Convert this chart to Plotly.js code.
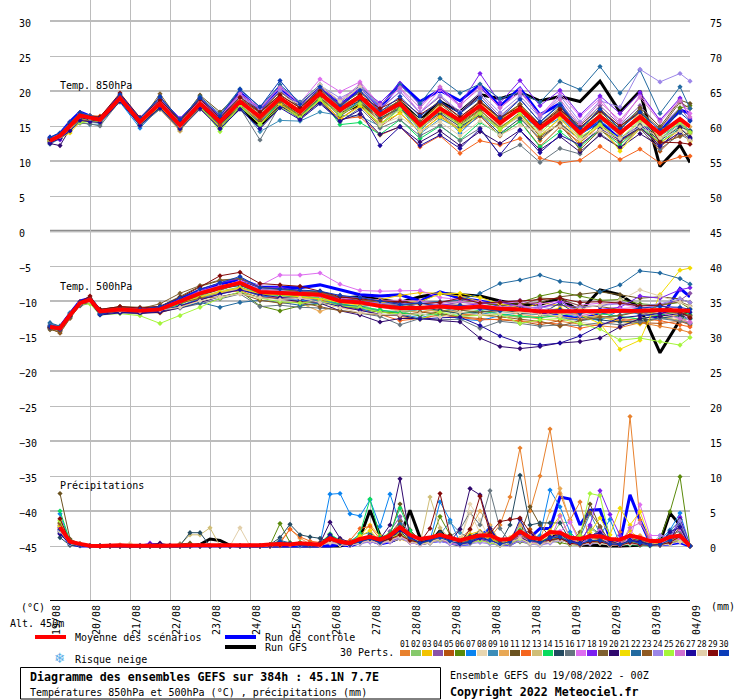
<!DOCTYPE html>
<html><head><meta charset="utf-8">
<script src="https://cdn.plot.ly/plotly-3.0.1.min.js"></script>
<style>html,body{margin:0;padding:0;background:#fff}</style></head>
<body><div id="chart" style="width:740px;height:700px"></div>
<script>
// Hours since the start of the run for the temperature samples
const tempHours=[0,6,12,18,24, 30,42,54,66,78, 90,102,114,126,138, 150,162,174,186,198, 210,222,234,246,258, 270,282,294,306,318, 330,342,354,366,378, 384];
// Hours for precipitation samples, one row per day
const rainHours=[6,12,18,24,30,36,42,48,54,60,66,72,78,84,90,96,102,108,114,120,126,132,138,144,150,156,162,168,174,180,186,192,198,204,210,216,222,228,234,240,246,252,258,264,270,276,282,288,294,300,306,312,318,324,330,336,342,348,354,360,366,372,378,384];
const dayTicks=[0,24,48,72,96,120,144,168,192,216,240,264,288,312,336,360,384];
const dayLabels=['19/08','20/08','21/08','22/08','23/08','24/08','25/08','26/08','27/08','28/08','29/08','30/08','31/08','01/09','02/09','03/09','04/09'];
const memberColors=['#E8812D','#86C96B','#F2C300','#8A52A8','#B5520F','#5A8A0A','#0A84F0','#E8D6B0','#3C8DB8','#E8A855','#6B5320','#F5651E','#D0BE78','#0ADB5E','#234A60','#66757F','#DE6EF0','#7B1FF0','#7F6030','#30086E','#F2DC00','#226AA0','#8F5A22','#9C86E8','#A5F53A','#D070D0','#1E0A9E','#E2CFAA','#850A0A','#0A3CB8'];

const meanT850=[12.9,13.6,15,16.5,16.2, 15.9,19,15.6,18.2,15.1, 18.2,15.6,18.5,16.3,19, 17,19.7,17.3,19.2,16.6, 18.2,15.1,17.5,15.8,17.9, 15.4,17.5,14.7,16.8,14, 16.4,14,16.3,13.9,16, 14.9];
const ctrlT850=[13.2,13.9,15.6,17,16.4, 16,19.3,15.9,18.8,15.8, 18.7,16.2,19.8,17.2,20.5, 17.8,20.5,18,20.2,17.5, 21.1,18.5,20.1,18.6,20.9, 17.8,20.4,16.6,18.2,14, 15.6,13.1,14.9,14.2,17.3, 16.8];
const gfsT850=[13,13.7,15.2,16.3,16.1, 15.8,18.8,15.7,18.3,15.2, 18,15.2,17.6,15,18, 17,19,17,18,16.5, 18.5,15.8,18.5,17,19.5, 18.9,19.8,18.6,19.2,18.5, 21.4,17,20,9.2,12.3, 9.8];
const t850m01=[13,13.5,15,16.2,16, 15.8,19,15.5,17.6,14.5, 17.9,15.2,18,15.6,18.5, 16.6,19.3,16.6,18.6,15.8, 17.4,14.6,16.6,14.6,17.2, 14.8,16.4,12.9,15.5,12.2, 14.6,11.8,15,12,14.2, 13];
const t850m02=[12.8,13.4,14.8,16,15.8, 15.7,18.8,15.2,17.8,14.9, 17.7,15,17.9,15.9,18.2, 16.4,18.9,16.9,18.4,15.2, 17.8,14.6,17.4,15,17.3, 14.7,16.9,13.5,16.1,14.2, 15.9,14.4,15.8,14.5,15.4, 13.9];
const t850m03=[13.1,13.7,15.2,16.6,16.3, 15.9,19.1,15.8,18.4,15.3, 18.4,15.8,19,16.6,19.2, 17.3,20.3,17.8,19.4,16.4, 18.5,15.7,17.9,15.2,18.4, 15.9,18,15,17.5,13.8, 16.8,13.4,17.2,13,15.8, 14.2];
const t850m04=[13.2,13.8,15.4,16.7,16.3, 16,19.2,15.8,18.6,15.4, 18.6,16.1,19.2,17.1,20, 18,20.4,17.6,20.2,17.4, 19.9,16.9,19.2,16.8,19.4, 16.4,18.9,15.6,18.2,15, 17.9,15.2,17.9,14.8,17.6, 15.8];
const t850m05=[12.7,13.3,14.6,15.9,15.8, 15.6,18.6,15.1,17.9,14.8, 17.6,15.1,17.8,15.5,18.3, 16.3,18.7,16,18,14.9, 16.9,14.1,16.4,14.4,16.4, 13.6,15.7,12.1,14.9,12.6, 15.1,12.9,14.7,11.4,14.1, 13];
const t850m06=[13,13.6,15,16.4,16.1, 16,19,15.2,17.9,14.3, 17.9,14.9,18.2,15.7,18.9, 16.9,19.5,17,18.8,16.1, 17.7,15,17.3,15.4,17.4, 15.9,17.2,14.2,17.4,14.6, 16.6,14.7,17.1,13.8,17.6, 17.9];
const t850m07=[13.1,13.7,15.1,16.2,16, 15.7,18.4,14.7,17.7,14.9, 17.4,15.2,17.6,15.6,18.1, 16.2,19.1,16.4,18.7,16.3, 18,14.3,17.1,14,16.7, 14.4,16.6,14.6,16.1,13.7, 15.7,13.8,16.2,13.1,15.4, 14.3];
const t850m08=[12.9,13.6,15,16.4,16.2, 15.9,18.9,15.5,18.2,15.2, 18.1,15.7,18.4,16.9,19.4, 17.6,20.7,18.4,20.4,17.1, 18.3,15.9,17.1,14.9,16.9, 14.6,16.3,13.5,15.5,13.2, 15,12.8,15.4,12.6,14.6, 13.8];
const t850m09=[12.4,13.2,14.4,15.6,15.2, 15.3,18.5,15.1,17.6,14.8, 17.9,15,17.7,14.2,15.8, 15.7,17,16.5,16.4,15, 17.6,13.9,16,14.6,16.8, 14.8,16.6,15.4,18.2,14.6, 17.1,15,17.4,13.6,15.3, 14.4];
const t850m10=[13,13.5,14.8,16.1,16.1, 15.9,18.9,15.4,17.4,14.3, 18,15.3,18.5,16.5,19.1, 17.1,19.4,17,19,16.1, 18.4,15.4,17.7,15.6,18, 15.3,17.8,14.4,17.1,13.5, 16.7,13.9,16.8,13.5,15.9, 14.9];
const t850m11=[13.2,13.8,15.4,16.7,16.4, 16.1,19.2,15.9,19,15.6, 19.4,17,19.7,17,19.5, 17.6,20,17.6,19.5,16.8, 18.7,15.6,18.2,15.9,18.5, 16,18.1,15.2,17.7,14.7, 17.1,14.4,17.6,14.9,18.7, 18.2];
const t850m12=[13,13.6,15,16.3,16.5, 16.4,19.2,16,18.1,15, 18,15.4,18.1,15.8,18.6, 16.2,18.9,16,16.3,13.7, 14.9,12,13.6,11.1,12.9, 12.3,13.2,10.4,9.7,10.1, 12.1,10.2,11.7,9.7,10.6, 10.7];
const t850m13=[12.8,13.4,14.7,16,16, 15.8,18.6,15.4,17.4,14.5, 17.7,15.3,18.1,15.9,18.4, 16.6,19.2,16.9,18.8,15.9, 17.5,14.5,16.9,14.3,17.1, 15,16.4,13.6,16,13.3, 15.3,13.1,15.6,13,15.1, 13.9];
const t850m14=[12.9,13.5,15,16.4,16, 15.8,18.8,15.2,17.5,14.9, 18,14.5,18,15.2,18.6, 16.3,19,15.2,15.5,13.8, 15.9,13.2,15,13,15.5, 13.8,15.6,12,14.2,12, 14.5,12.3,14.9,12.6,14.7, 13.3];
const t850m15=[13.1,13.7,15.1,16.5,16.1, 15.9,19.1,15.9,18.4,15.6, 18.5,15.9,18.8,16.9,19.2, 17.1,19.8,17.2,18.6,16.1, 17.5,14.9,16.8,14.9,16.6, 13.9,16.1,13.2,15.4,13, 15.6,12.8,15.1,12.9,14.9, 14.3];
const t850m16=[12.6,13.2,14.5,15.4,15.3, 15,18.6,15,17.4,14.5, 17.4,14.8,17.6,13,18, 16,18.4,15.6,17.6,14.7, 15.9,13.6,15.1,12.9,14.7, 10.9,12.3,9.8,11.8,11, 13.9,11.9,14.6,11.7,13.8, 13];
const t850m17=[13.2,13.9,15.6,16.8,16.4, 16.1,19.3,16.1,18.9,16, 19,16.5,19.4,17.5,20.6, 18.3,21.7,19.9,21.3,18, 20.4,16.9,20.2,17.8,20.8, 17.6,20.2,16.4,19.6,16.4, 18.9,15.3,19.4,15.9,18.8, 16.8];
const t850m18=[13.4,13,14.9,16.9,16.4, 16.1,19,16.2,19,16.1, 19,16.5,19.7,17.5,20, 18,20.6,18,20.5,18.3, 21.1,18,20.4,18,22.5, 18.3,21.5,17.9,20.1,16.6, 19.3,16.8,19.8,15.8,19, 16];
const t850m19=[13,13.7,15.4,16.9,16.2, 16,19.1,15.6,19.6,15.6, 18.9,16.2,18.9,16.9,19.9, 17.7,20.2,18,19.8,17.1, 18.6,15.6,18.4,16.2,18.6, 16.2,18.1,15.2,17.2,15.1, 17.5,14.9,17.2,14.6,18.4, 17.5];
const t850m20=[12.5,12.2,14.6,16.2,15.9, 15.6,18.6,15.2,17.7,14.8, 17.8,15.3,17.7,15.4,17.9, 16.1,18.5,15.8,16.7,13.8, 14.9,12.7,14.3,12.2,14.2, 12.5,14.4,11.6,13.5,11.3, 13.7,11.9,13.9,12.1,14.7, 13.4];
const t850m21=[12.8,13.3,14,15.6,15.7, 15.5,18.7,15.4,17.8,14.6, 17.6,14.9,17.8,15.3,18.1, 16.3,18.7,16,17.8,15.4, 16.8,14.2,16.3,14.4,16.8, 14.4,16.7,13.6,16.1,12.9, 15.1,11.4,14.7,12.6,14.4, 12.8];
const t850m22=[13.3,14,15.5,16.9,16.5, 16.2,19.2,16,19,15.9, 19.2,16.7,20.3,17.7,20.9, 18.4,20.9,18.4,20.8,17.9, 20.9,18.2,21.8,19.7,21, 18.9,19.8,18.4,21.4,20.2, 23.5,19.7,23,16.8,20.6, 17.5];
const t850m23=[12.8,13.4,14.8,15.9,15.7, 15.7,18.8,15.4,18,15.2, 18,15.1,18.4,15.9,18.5, 16.5,19.1,16.4,18.3,15.7, 18,15,17.1,15.2,17.3, 14.7,16.9,13.5,15.3,11.6, 14.4,12.7,14.7,12.5,13.5, 14.1];
const t850m24=[13.1,13.8,15.3,16.6,16.1, 15.8,19.1,15.9,18.6,15.4, 18.7,16.4,19.3,17.4,20.1, 18,20.8,19,20.5,17.6, 19.9,16.9,19.4,17,19.7, 16.9,19.3,16.2,19.3,15.6, 18.6,17.7,23.1,21.3,22.5, 21.4];
const t850m25=[12.9,13.4,14.8,15.5,15.6, 15.6,18.5,15.2,17.9,14.9, 17.9,14.2,17.9,15.2,17.7, 16.2,18.8,16.6,18.2,15.1, 17.4,14.7,17.2,15.1,16.8, 14.6,16.8,13.9,16.7,13.4, 15.2,13.1,15.9,13.2,15.5, 14.1];
const t850m26=[13.1,13.6,15,16.5,16.3, 16.1,19,15.9,18.7,15.4, 18.6,16.3,19.6,17.6,20.5, 18.2,20.5,18.6,21,18, 20.5,17.6,20.6,18,20.4, 17.6,19.8,16.6,18.8,15.2, 18.4,15.8,19.1,15.6,18.6, 16.3];
const t850m27=[12.6,13.2,14.3,15.8,15.6, 15.5,18.5,15.1,17.6,14.6, 17.5,14.6,17.4,14.6,17.6, 15.9,18.2,15.7,17.3,12.2, 14.9,12.2,13.7,11.8,14.6, 10.9,14.4,11.2,13.7,12.3, 14.6,13,14.8,12.2,14.1, 13.2];
const t850m28=[13,13.5,14.9,16.4,16.1, 15.9,18.8,15.6,18,15, 18.3,15.7,18.7,16.7,19.3, 18.1,20.9,18.5,20.6,15.2, 16.3,14.3,15.6,13.6,15.7, 13.7,15.1,14.1,15,13.1, 14.4,13.2,14.9,13.3,14.3, 12.9];
const t850m29=[13.1,13.7,15.3,16.5,16.3, 16.3,19.7,16.2,18.7,15.8, 18.8,16.2,19.1,17,19.4, 17.6,20,17.4,19.4,17.5, 18.9,16.6,18.5,16.3,18.4, 16.2,17.7,15.2,17.4,14.8, 17.2,15,17,12.7,12.6, 12.4];
const t850m30=[13.4,14,15.6,16.9,16.3, 16.1,19.5,16.1,19.2,15.9, 19,16.4,20.2,17.7,21.5, 18.1,20.6,17.8,20.1,17, 19.2,16.4,18.5,16.8,19, 16.1,18.8,15.6,18,14.6, 17.4,14.6,17,14.4,16.9, 15.7];

const meanT500=[-13.7,-13.9,-12,-10.3,-9.8, -11.5,-11.2,-11.4,-11.2,-10.1, -8.9,-8.1,-7.4,-8.7,-8.8, -8.9,-9.1,-10,-10.2,-10.7, -11,-11,-10.8,-11,-10.8, -11.1,-11.2,-11.5,-11.5,-11.5, -11.4,-11.4,-11.4,-11.3,-11.3, -11.4];
const ctrlT500=[-13.5,-13.7,-11.8,-10,-9.6, -11.4,-11,-11.2,-10.9,-9.7, -8.5,-7.6,-6.9,-8,-8.1, -8.1,-7.7,-8.4,-9.1,-9.3, -9.1,-10,-8.7,-9.6,-10, -10.6,-11,-11.6,-12,-12.6, -11.8,-11.4,-11.5,-12.5,-8.2, -9.4];
const gfsT500=[-13.6,-13.8,-11.9,-10.2,-9.7, -11.4,-11,-11.2,-11,-10.2, -9.3,-8.3,-7.3,-8.8,-8.9, -9.1,-9.2,-9.6,-9.4,-9.8, -10.2,-9.4,-8.9,-9.1,-9.3, -10,-10.5,-10.5,-9.6,-11.5, -8.4,-9.1,-11,-17.4,-12.7, -10.9];
const t500m01=[-13.8,-14,-12.1,-10.4,-9.9, -11.6,-11.3,-11.4,-11.3,-10.7, -9.6,-8.4,-7.6,-9.3,-9.6, -9.2,-9.4,-10.2,-10.4,-10.5, -11.4,-11.6,-11.2,-11.9,-12, -12.3,-12.2,-12.5,-12.9,-13.3, -13.6,-13.8,-13.1,-13.6,-14.1, -14.5];
const t500m02=[-13.6,-14,-12,-10.5,-10.1, -11.6,-11.5,-11.7,-11.6,-10.5, -9.2,-8.6,-8,-9,-9.4, -9.5,-9.8,-10.4,-10.7,-11.3, -11.8,-11.2,-11.5,-11.7,-11.3, -11.8,-12.4,-12.2,-11.6,-12.1, -12.6,-12,-11.3,-12.4,-12.8, -12.5];
const t500m03=[-13.7,-13.8,-11.9,-10.3,-9.9, -11.5,-11.3,-11.3,-11,-9.9, -8.7,-7.9,-7.2,-8.5,-8.9, -9.2,-9.3,-9.9,-10,-9.8, -9.2,-8.8,-8.9,-9.3,-10.1, -10.6,-11.2,-10.3,-10.6,-11.2, -12.3,-12.9,-13.3,-12.4,-12, -13.5];
const t500m04=[-13.6,-13.9,-12,-10.2,-9.8, -11.3,-11.1,-11.3,-11.1,-10, -8.7,-8.1,-7.3,-8.4,-8.4, -8.6,-8.8,-9.2,-9.6,-10.1, -10.1,-10.3,-10.6,-10.2,-10.4, -10.1,-9.9,-10.8,-10.6,-10.9, -10.7,-10.1,-10.7,-10.5,-9.9, -8.9];
const t500m05=[-13.9,-14.1,-12.2,-10.6,-10.1, -11.7,-11.5,-11.6,-11.7,-10.8, -9.7,-8.8,-8.3,-9.3,-9.6, -10,-9.9,-10.7,-11,-11.4, -12.2,-12.6,-11.9,-12.3,-12.5, -12.7,-12.9,-13.4,-12.8,-12.4, -12.2,-12.6,-13.1,-13.2,-12.9, -13.4];
const t500m06=[-13.7,-14,-12.1,-10.4,-10, -11.4,-11.2,-11.2,-11.1,-10.5, -9.5,-8.7,-8.6,-10.7,-11.4, -10.7,-10.4,-10.6,-11.2,-11.6, -11.7,-12.1,-11.5,-11.2,-10.7, -10.4,-10.2,-9.3,-8.7,-9.3, -9.9,-9.8,-10.4,-10.6,-10.2, -11.1];
const t500m07=[-13.6,-13.7,-11.7,-10.4,-10.2, -11.8,-11.4,-11.5,-11.3,-10.6, -9.8,-9,-8.4,-9.2,-9.7, -9.9,-10,-10.4,-11,-12.1, -11.9,-12.4,-11.7,-12.6,-12.8, -12.1,-11.6,-11.2,-11.8,-12.3, -12.8,-11.3,-11.9,-12.3,-12.8, -13.2];
const t500m08=[-13.8,-13.9,-12.1,-10.5,-9.9, -11.5,-11.2,-11.4,-11.2,-10.6, -9.4,-8.5,-8.6,-8.1,-8.2, -8.9,-9.5,-10.3,-10.6,-10.8, -11.3,-10.6,-11,-11.6,-11.8, -12.4,-11.7,-11.3,-12.5,-13, -13.5,-12.9,-12.4,-12,-12.6, -13];
const t500m09=[-13.3,-13.6,-11.9,-10.6,-10.2, -11.8,-11.6,-11.7,-11.5,-10.8, -9.7,-8.8,-8.1,-8.9,-9.2, -9.6,-9.9,-10.5,-11,-11.4, -11.5,-11.2,-10.9,-11.6,-11.9, -11.5,-11.8,-11.9,-12.4,-12.8, -12.5,-12,-11.5,-11.9,-12.3, -12.6];
const t500m10=[-13.7,-13.9,-12,-10.3,-9.7, -11.3,-11.1,-11.1,-11,-10.1, -8.9,-8,-7.3,-8.9,-9.6, -10.3,-11.5,-10.5,-10.1,-10.4, -10.8,-11.1,-11.6,-11.4,-11,-11.3, -11.9,-12.3,-12.2,-12.6, -12,-11.5,-11.7,-12.2,-12.8, -13.1];
const t500m11=[-14.1,-14.4,-12.4,-10.5,-9.6, -11.2,-10.8,-10.9,-10.8,-9.4, -7.9,-7.1,-6.8,-8.2,-8.3, -8.5,-8.7,-9.6,-9.9,-10.3, -10.6,-10.4,-10.2,-9.9,-10.2, -10.6,-10.4,-10.2,-9.4,-9,-8.7, -9.1,-9.6,-9.4,-9.7, -10.2];
const t500m12=[-13.6,-13.8,-12,-10.5,-10, -11.5,-11.3,-11.5,-11.4,-10.8, -9.9,-8.9,-8.5,-9.6,-9.5, -9.4,-9.8,-10.9,-11.3,-11.9, -12.8,-12.5,-12,-12.3,-12.7, -12.6,-12.8,-13.1,-13.3,-13.9, -13.3,-12.8,-12.5,-12.8,-13.4, -13.7];
const t500m13=[-13.7,-14,-12,-10.3,-9.9, -11.6,-11.6,-11.9,-11.2,-10.4, -9.4,-8.8,-8.2,-9,-9.3, -9.7,-9.5,-10.1,-10.3,-10.8, -11.5,-11.1,-10.6,-10.5,-11, -11.4,-11.5,-11.2,-11.8,-12.1, -12.3,-12.6,-12.1,-11.4,-11.9, -12.2];
const t500m14=[-13.8,-14.1,-12.3,-10.6,-10, -11.6,-11.4,-11.4,-11.3,-10.5, -9.1,-8.3,-7.7,-9,-9.2, -9.4,-9.6,-10.4,-10.8,-11.2, -11.7,-11.9,-12,-11.8,-11.4, -11.9,-12.1,-12.4,-12,-11.6, -11.8,-12.2,-12.6,-12,-11.5, -11.9];
const t500m15=[-13.5,-13.8,-11.9,-10.4,-10, -11.4,-11.1,-11.2,-11.3,-10.2, -9,-8.2,-7.8,-8.7,-8.6, -8.8,-9,-9.8,-10.1,-10.6, -11,-10.9,-11.3,-11.8,-11.6, -11.2,-11.7,-11.9,-10.3,-12.2, -12.7,-13,-12.8,-12.4,-12.1, -12.5];
const t500m16=[-13.9,-14.2,-12.3,-10.7,-10.3, -11.7,-11.5,-11.6,-11.4,-11, -10.4,-9.7,-9,-10.8,-10.6, -10.9,-11,-11.3,-11.8,-12.2, -13.4,-12.5,-12.7,-12.6,-13.9, -12.9,-13.2,-13.6,-13.4,-13.5, -13.1,-13.4,-13,-12.5,-12.9, -13.2];
const t500m17=[-13.6,-13.8,-11.8,-10.2,-9.8, -11.2,-11,-11,-11,-9.9, -8.7,-8,-7.1,-7.8,-6.3, -6.3,-6,-7.6,-8.5,-8.6, -8.5,-8.5,-9.5,-9.8,-10.1, -10.4,-10.1,-10.4,-10,-10.6, -10.3,-10.4,-11,-10.6,-11.1, -13];
const t500m18=[-13.7,-13.9,-12.1,-10.4,-9.8, -11.3,-11,-11.1,-10.9,-9.8, -8.5,-7.4,-6.8,-8.1,-8, -8.6,-9,-9.6,-10,-10.3, -10.3,-10.9,-10.4,-10.7,-10.4, -10.1,-10.8,-11,-10.1,-11.6, -11.2,-10.9,-9.3,-9.6,-8.4, -8.1];
const t500m19=[-13.8,-14.3,-12.2,-10.5,-9.9, -11.2,-10.9,-11.1,-10.4,-8.9, -7.8,-7,-6.8,-8,-8.3, -8.7,-8.8,-9.5,-9.8,-10.2, -10.4,-10.9,-10.7,-11.3,-11.6, -11.4,-10.6,-9.6,-9.7,-10.7, -10.8,-11.2,-11.8,-10.6,-10.1, -10.7];
const t500m20=[-13.8,-14,-12.1,-10.5,-10.2, -11.9,-11.6,-11.8,-11.6,-11, -10.2,-9.4,-8.8,-9.5,-9.7, -10.1,-10.3,-11.4,-12,-13, -12.5,-12.5,-12.8,-13,-15.3, -16.5,-16.8,-16.5,-16,-15.8, -15.3,-13.7,-12.5,-12.2,-11.8, -12.1];
const t500m21=[-13.7,-13.9,-12,-10.4,-10, -11.5,-11.2,-11.4,-11.2,-10.3, -9.4,-8.7,-8.1,-9,-9.1, -9.4,-9.7,-10.2,-10.6,-10.3, -9.9,-10.1,-9,-8.9,-9.5, -10.4,-11,-11.6,-11,-12, -13.2,-16.9,-15.6,-9.1,-5.6, -5.3];
const t500m22=[-13.1,-13.6,-11.7,-10.4,-10.1, -11.6,-11.3,-11.4,-11.1,-10.9, -10.2,-10.9,-10.2,-9.9,-10.2, -10.6,-10.3,-10.5,-10.8,-10.5, -10.7,-10.1,-10.1,-9.9,-8.9, -7.5,-7,-6.3,-7.2,-7.5, -8.7,-7.7,-5.7,-6,-6.8, -7.6];
const t500m23=[-13.9,-14.6,-12.5,-10.6,-10.2, -11.4,-11,-11.2,-11,-10.3, -9.6,-9.4,-8.9,-9.9,-10.3, -10.2,-10.8,-11.4,-11.7,-12, -12.1,-11.6,-11.8,-12.2,-11.9, -12.3,-12.6,-12.9,-13.6,-12.8, -12.3,-12.1,-11.5,-11.8,-11.6, -12.1];
const t500m24=[-13.6,-13.9,-11.9,-10.3,-9.9, -11.4,-11.2,-11.3,-11.2,-10.1, -8.9,-8.1,-7.5,-8.2,-8.5, -8.8,-9.2,-9.9,-10.1,-10.4, -10.5,-10.1,-10.6,-10.9,-11.2, -10.9,-11.1,-10.8,-11.4,-10.9, -10.7,-10.4,-10.7,-10.4,-9.7, -10.2];
const t500m25=[-13.8,-14.1,-12.2,-10.5,-10.4, -12,-11.8,-12.1,-13.2,-12.1, -10.9,-9.6,-8.7,-9.6,-10.1, -10.3,-10,-10.7,-10.9,-11.6, -11.9,-12.6,-11.6,-12.2,-12.1, -11.9,-13.2,-12.7,-12.5,-13.2, -14,-15.6,-15.3,-15.8,-16.3, -15.2];
const t500m26=[-13.7,-14,-12,-10.3,-9.8, -11.3,-11.2,-11.2,-11.1,-10, -8.6,-7.8,-7.4,-8.4,-8.7, -9,-9.3,-9.7,-9.5,-9.9, -9.9,-10,-10.3,-10.1,-10.5, -10.9,-10.6,-11.2,-11.5,-12.1, -11.6,-11.1,-10.9,-11.6,-12.5, -13.1];
const t500m27=[-13.8,-14.1,-12.2,-10.5,-10.1, -12,-11.7,-11.7,-11.5,-10.7, -9.9,-9,-8.4,-9.1,-9.5, -9.7,-10.2,-10.8,-11.3,-11.9, -12,-12.6,-12.4,-12.3,-13.5, -15,-16,-16.3,-16,-15, -13.5,-12.4,-12.1,-11.8,-11.2, -11.6];
const t500m28=[-13.6,-13.9,-11.9,-10.4,-10.1, -11.6,-11.4,-11.5,-11.3,-10.9, -10,-9.4,-9,-9.5,-9.8, -9.6,-10.2,-11,-11.7,-11.9, -12,-11.8,-12.3,-11.6,-12, -11.8,-11.6,-11.9,-12.1,-11.2, -10.6,-9.9,-8.4,-9.3,-10.2, -10.8];
const t500m29=[-13.7,-13.9,-12.1,-10.1,-9.3, -11.2,-10.8,-11,-10.8,-9.5, -8,-6.4,-5.9,-7.5,-7.7, -7.9,-8.6,-9.4,-9.7,-10, -10.1,-10.4,-10.2,-9.6,-10.3, -10.2,-10,-9.8,-9.6,-10.2, -10.1,-10.3,-10.7,-10.6,-11.5, -12.4];
const t500m30=[-13.6,-13.8,-11.9,-10.2,-9.8, -11.9,-11.2,-11.2,-10.8,-9.6, -8.3,-7.4,-6.5,-8.1,-8.3, -8.5,-8.6,-9.2,-9.5,-10, -10.5,-10.3,-10.8,-10.6,-11.1, -11.4,-11.1,-11.5,-11.2,-11.8, -11.3,-11.5,-11,-10.8,-10.9, -11.2];

// Precipitation in mm, four values per day
const meanRain=[2.7,.6,.3,.05, 0,.1,.1,.05, 0,.05,.05,.1, .1,.1,.1,.1, .05,.05,.05,.05, .1,.2,.3,.2, .4,.3,.2,1.1, .6,.4,1,1.3, .9,1.5,2.7,1.6, 1,1.2,1.6,1.2, .8,1.2,1.5,1.5, .9,1,2.1,1.2, 1,2,1.9,1.2, 1,1.4,1.4,1, .9,1.5,1.2,.7, .7,1.3,1.5,0];
const ctrlRain=[2.2,.3,0,0, 0,0,0,0, 0,0,0,0, 0,0,0,0, 0,0,0,0, 0,0,0,0, 0,0,0,0, .2,0,.5,.9, .3,.6,1.2,.8, .3,.6,.8,.5, .2,.3,1.5,2.4, .3,.2,1,1.2, 2.5,2.5,7,6.7, 3,5.1,5.2,1, .5,7.3,3.7,.5, .2,.3,.5,0];
const gfsRain=[2.6,.4,.1,0, 0,0,0,0, 0,0,0,0, 0,0,.2,1, .8,.1,0,0, 0,0,0,0, 0,0,0,0, 0,.3,1.2,5.1, 1.5,.6,1.2,5.1, 1.2,.4,2.2,.4, .2,.8,2,.6, .2,.4,1.3,.6, .3,1.2,2,.9, .1,.1,0,0, 0,0,.1,.5, .5,4.7,3,0];
const rainm01=[2.6,.4,.1,0, 0,0,0,0, 0,0,0,0, 0,0,0,0, 0,0,0,0, 0,0,.2,.3, .4,.2,.2,.8, .6,.3,1,1.5, .8,1,1.8,.6, .3,.8,1.2,.6, .4,1,2,1.2, 3,7,14,5, 10,16.7,7.5,3.7, 6.3,.5,.4,.2, 2,18.5,3.7,.5, .3,.5,1.5,0];
const rainm02=[3,.5,.1,0, 0,0,0,0, 0,0,0,0, 0,0,0,0, 0,0,0,0, 0,0,.3,.2, .2,.1,.1,1, .5,.2,.5,.6, .3,1,3.6,1.8, .6,.8,1.3,.4, .3,.6,.9,.6, .2,.3,1.2,.8, .4,1,3.3,3.4, 1,2.4,1.8,.6, .2,.8,.5,.2, .1,.4,.8,0];
const rainm03=[3.4,.6,.2,0, 0,0,0,0, 0,0,0,0, 0,0,0,0, 0,0,0,0, 0,.2,.7,.3, .2,.1,0,.6, .3,.4,1.5,3, 1.4,.6,1,.5, .3,.5,.8,.5, 1,1.7,2.1,1.5, .3,.6,2.3,.6, .4,1.5,1.9,.7, .3,1.1,.9,.3, .5,2.2,.9,.4, .2,.7,1.6,0];
const rainm04=[2.1,.3,.1,0, 0,0,0,0, 0,0,0,0, .2,.2,0,0, 0,0,0,0, 0,.2,.3,.1, .2,.1,.1,.6, .2,.1,.9,.8, .4,2.1,4.2,1.5, .4,.9,1.2,.7, .4,.5,1,.7, .3,.4,1.8,.6, .4,.9,1.2,.4, .3,1.4,1.9,.7, .2,.5,.2,.1, .2,1.5,2.8,0];
const rainm05=[2.9,.6,.2,0, 0,0,0,0, 0,0,0,0, 0,0,0,0, 0,0,0,0, 0,0,.1,.3, .5,.4,.1,1.4, .4,.1,.6,1.1, .8,.9,2.4,1, .3,.6,1.1,.8, .3,.8,1.8,.9, .2,.4,1.2,2.4, .6,1.1,1.5,.4, .7,1.1,1,.3, .1,.3,.2,.1, .3,1.2,2.3,0];
const rainm06=[2.4,.4,.2,0, 0,0,0,0, 0,0,0,0, 0,0,0,0, 0,0,0,0, 0,.1,3.2,.5, .1,0,.1,1.7, .3,.2,.8,.9, .5,.7,2.2,.6, .2,.4,4.2,1.6, .3,.4,.8,.7, .1,.3,.6,.3, .5,.7,.5,.2, .1,.3,.9,.4, .2,.5,.4,.1, 1,4.9,9.9,0];
const rainm07=[4.6,.5,.1,0, 0,0,0,0, 0,0,0,0, 0,0,0,0, 0,0,0,0, 0,0,.4,.1, 0,.1,.3,7.4, 7.5,4.6,4.3,6.6, 2.8,7.4,3.2,1.1, .3,.8,6.3,3.7, .5,.9,1.3,2.8, .5,.8,3,1, 1.5,8,5.6,2, .5,1,1.5,3.8, .3,.6,1.2,.4, .8,2.3,4.7,0];
const rainm08=[3.1,.5,.2,0, 0,0,0,0, 0,0,0,0, 0,0,0,0, 0,0,0,0, 0,.1,.5,.3, .2,.1,.2,1.1, .4,.2,.6,.9, .6,1.3,2.7,1.2, .5,.8,1.6,.9, .3,6,3.7,.9, .4,.8,2.8,1, .4,1.2,.8,.5, .3,.8,.5,.2, .4,1.3,.9,.2, .1,.4,1,0];
const rainm09=[2.2,.3,.1,0, 0,0,0,0, 0,0,0,0, 0,0,0,0, 0,0,0,0, 0,0,.2,.2, .1,.1,.2,1.3, .5,.7,1.6,1.9, .9,1.4,2.9,1.3, .4,.7,1.7,3.4, 1.9,1.1,1.7,.9, .2,1,3.1,1.2, .4,1.3,1.1,.6, 1.2,4.6,1.8,.4, .2,.7,1.1,.3, .2,2,3,0];
const rainm10=[3.7,.8,.3,0, 0,0,0,0, 0,0,0,0, 0,0,0,0, 0,0,0,0, 0,.1,.6,2.4, 1.1,.3,.2,.7, .4,.3,1,1.2, .6,1.2,2,.9, .6,1,1.3,.9, 1.1,2.3,5,3, .6,1.2,3,1.4, .9,5,8.2,3.6, .8,1.2,.9,.3, .2,.8,1.5,.5, .2,.6,1.1,0];
const rainm11=[7.5,1,.3,.1, 0,0,0,0, 0,0,0,0, .3,.4,0,0, 0,0,0,0, 0,0,.3,.2, .2,.2,.4,1.6, .7,.4,1.1,.8, .6,1.6,6,2.3, .8,1.1,1.7,.8, .4,.8,1.4,1.2, .3,.7,1.5,5.6, 3,1.3,.9,.4, 1.5,6,2.7,.6, .3,1.1,.7,.2, .1,.5,1.2,0];
const rainm12=[2.7,.6,.3,0, 0,0,0,0, 0,0,0,0, 0,0,0,0, 0,0,0,0, 0,0,.4,2.4, 1.3,.7,.5,1.5, .6,.8,2.5,2.8, 1,1,1.4,.6, .4,.7,1.2,1, .3,.6,1.5,2.1, .3,.5,1.1,.5, .3,.7,1,.4, .2,.4,.5,.1, .2,.5,.3,.1, .2,.4,.9,0];
const rainm13=[2.5,.4,.1,0, 0,0,0,.3, 0,.1,.1,.1, .2,1.6,1.6,2.6, 0,0,0,0, 0,0,.2,.3, .1,.2,.3,.8, .4,.2,.5,1, .7,.9,1.9,.9, .3,7,2.6,1, .5,1,1.6,.8, .2,.6,1.4,.7, .2,.7,1.2,.5, .2,.6,.5,.2, .1,.5,.3,.1, .3,.9,1.2,0];
const rainm14=[5,.7,.2,0, 0,0,0,0, 0,0,0,0, 0,0,0,0, 0,0,0,0, 0,.1,.2,.4, .5,.3,.4,1.7, .8,.4,1.8,6.7, 1.2,1.8,5.4,2.2, .5,1,1.8,1.2, .3,.6,1.2,1.9, .3,.6,2.3,.7, .7,1.1,1.7,1.6, .5,.8,.4,.1, .1,.2,.1,0, .2,.5,1,0];
const rainm15=[1.2,.1,0,0, 0,0,0,0, 0,0,0,0, .1,1.9,1.9,0, 0,0,0,0, 0,.2,1.2,3.1, 1.6,1.3,1.1,.6, .3,.2,.7,1.6, .5,1.1,2.1,.8, .3,1,1.9,1.1, .6,1.4,2,.6, .4,3,10.1,3, 3.3,3.3,3.3,.8, .3,1.2,2.4,.3, .2,.6,.4,.1, .3,1.4,3.4,0];
const rainm16=[2,.4,.1,0, 0,0,0,0, 0,0,0,0, 0,0,0,0, 0,0,0,0, 0,0,0,.3, 0,.1,.2,.8, .3,.4,.7,1.4, .5,.9,2.6,1.2, .4,.8,1.2,1.3, 2.4,4.8,3,7.9, 2.5,.6,1.2,.5, .3,.7,.9,.4, .6,2.8,1.7,.4, .1,.5,.3,.1, .2,1.6,2.1,0];
const rainm17=[2.2,.4,.1,0, 0,0,0,0, 0,0,0,0, 0,0,0,0, 0,0,0,0, 0,0,.1,.2, .1,.1,.1,.6, .2,.1,.4,.7, .3,.7,1.2,.5, .2,.5,.9,.6, .2,.4,.7,.4, .1,.3,.8,.3, .2,.7,2.1,3.4, .4,.9,2.3,.8, .4,1,5.9,1.5, 1.5,1.3,2.4,0];
const rainm18=[2.6,.5,.2,0, 0,0,0,0, .1,.4,.2,.1, 0,0,0,0, 0,0,0,0, 0,0,.1,.2, .1,.1,.1,1, .3,.1,.4,.6, .3,.6,1.2,.6, .2,.5,1,.4, .2,.4,.9,.5, .1,.2,.9,.4, .2,.5,1.2,.9, .3,3,7.9,4.5, 1.5,.9,.6,.2, .1,1,4.1,0];
const rainm19=[3.3,.7,.3,0, 0,0,0,0, 0,0,0,0, 0,0,0,0, 0,0,0,0, 0,0,.4,.3, .3,.2,.3,1.2, .5,.3,1.1,1.3, .7,1.7,3.5,1.2, .4,.9,1.4,.9, .4,.7,1.3,1.1, .3,.5,1.5,.8, .4,1,1.5,.5, 2,4.8,2.8,.5, .3,1.5,.8,.2, .2,.9,2.7,0];
const rainm20=[1.7,.3,.1,0, 0,0,0,0, 0,.2,.4,.1, 0,0,0,0, 0,0,0,0, 0,.1,.4,.2, .1,.2,.4,3.4, 1.1,.5,.6,1.1, 1,3,9.6,1, .5,1,1.5,.6, 2.4,8.2,7.3,2.5, .4,.6,1.3,.6, .3,.5,1.2,.5, .2,.5,.9,.4, .1,.8,.6,.2, .1,.5,3.8,0];
const rainm21=[2.8,.5,.1,0, 0,0,0,0, 0,0,0,0, 0,0,0,0, 0,0,0,0, 0,.1,.5,.4, .2,.1,.2,1, .3,.4,1.4,2.2, .7,1.1,1.6,.8, .3,.6,1.1,.9, .4,.9,1.6,1.1, .3,.8,1.7,.9, .4,2.2,4.4,1.1, .4,1.9,4,1.6, 5.4,3,4.9,1, .3,.7,1.1,0];
const rainm22=[2,.3,.1,0, 0,0,0,0, 0,0,0,0, 0,0,0,0, 0,0,0,0, 0,.1,.8,.4, .1,.1,.2,1.4, .6,.3,.8,1.2, .5,1.4,3.1,1.1, .3,.8,1.6,1, .4,.8,1.2,.7, .2,.5,1.9,.8, .3,.8,1,.5, .2,.8,.8,.2, .1,.8,.6,.2, .2,2.2,3.6,0];
const rainm23=[3.2,.6,.2,0, 0,0,0,0, 0,0,0,0, 0,0,0,0, 0,0,0,0, 0,.1,.6,.3, .3,.3,.3,1.2, .8,.4,.9,1, .7,1.3,2.5,1, .3,.7,1.5,.9, .3,.7,1.4,.9, .2,.6,1.6,.7, .3,.8,1.1,.4, .4,1.3,1,.2, .1,.6,.4,.1, .2,.6,1.3,0];
const rainm24=[2.3,.4,.1,0, 0,0,0,0, 0,0,0,0, 0,0,0,0, 0,0,0,0, 0,0,.1,.2, .1,.1,.1,.4, .2,.1,.3,.6, .3,.6,1.1,.5, .2,.4,.7,.3, .1,.3,.5,.3, .1,.2,.7,.3, .1,.4,.8,.5, .1,.3,.4,.1, .1,.3,.2,.1, 1.5,1.2,3.6,0];
const rainm25=[3.6,.6,.2,0, 0,0,0,0, 0,0,0,0, 0,0,0,0, 0,0,0,0, 0,0,.3,.2, .1,.1,.2,.7, .2,.2,.5,.9, .4,.9,1.8,.8, .3,.5,.9,.7, .2,.4,.8,.5, .1,.3,1,.4, .3,1.1,1.2,1, 1.5,7.5,7.2,1, .2,.6,.3,.1, .2,.5,.9,0];
const rainm26=[2.4,.4,.1,0, 0,0,0,0, 0,0,0,0, 0,0,0,0, 0,0,0,0, 0,0,.2,.2, .1,.1,.2,.6, .3,.2,.6,.8, .4,.8,1.4,.7, .2,.5,1,.5, .2,.5,1.1,.7, .2,.4,1.5,.6, .3,.7,4.3,1.2, .3,1.3,1.4,.3, .2,2.6,3.3,1.1, .5,.6,1,0];
const rainm27=[1.8,.3,.1,0, 0,0,0,0, 0,0,0,0, 0,0,0,0, 0,0,0,0, 0,0,.1,.3, .2,.1,.2,1.6, .5,.3,.7,1.1, .4,1.2,2.2,1.3, .4,.9,1.4,.8, .3,.5,1.1,.8, .2,.4,3.8,1, .5,1.2,1.7,.7, .4,1.5,1.9,.8, .2,.8,.6,.2, .2,2,2.7,0];
const rainm28=[2.1,.3,.1,0, 0,0,.2,.3, 0,0,0,0, 0,0,0,0, 0,0,2.6,0, 0,0,.1,.2, .1,.1,.1,.5, .2,.1,.4,.8, .3,.8,1.3,.6, .2,.5,1.1,.5, .9,4.8,1.9,.7, .1,.5,1.1,.4, .2,.6,.9,.3, .1,.5,.4,.1, .1,.3,.2,.1, .1,.3,.6,0];
const rainm29=[3.9,.6,.1,0, 0,0,0,0, 0,0,0,0, 0,0,0,0, 0,0,0,0, 0,0,.1,.3, .2,.1,.2,.9, .4,.2,.7,1, .6,1,1.6,.8, .5,2.5,7.5,1.5, .4,2.4,7.1,1.8, 3.5,3.8,4,2, .6,.9,1.1,.4, .2,.6,.6,.2, .1,.5,.2,.1, .2,.5,1.4,0];
const rainm30=[2.4,.4,.1,0, 0,0,0,0, 0,0,0,0, 0,0,0,0, 0,0,0,0, 0,.1,.6,.3, .1,.1,.2,1.2, .4,.2,.6,1, .5,1.5,2.6,1.2, .4,.8,1.2,.7, .3,.6,1.3,.8, .3,.6,1.9,.8, .5,1.1,1.3,.6, .3,.8,.8,.3, .2,.7,.4,.1, .2,.8,1.5,0];

const t850s=[t850m01,t850m02,t850m03,t850m04,t850m05,t850m06,t850m07,t850m08,t850m09,t850m10,t850m11,t850m12,t850m13,t850m14,t850m15,t850m16,t850m17,t850m18,t850m19,t850m20,t850m21,t850m22,t850m23,t850m24,t850m25,t850m26,t850m27,t850m28,t850m29,t850m30];
const t500s=[t500m01,t500m02,t500m03,t500m04,t500m05,t500m06,t500m07,t500m08,t500m09,t500m10,t500m11,t500m12,t500m13,t500m14,t500m15,t500m16,t500m17,t500m18,t500m19,t500m20,t500m21,t500m22,t500m23,t500m24,t500m25,t500m26,t500m27,t500m28,t500m29,t500m30];
const rains=[rainm01,rainm02,rainm03,rainm04,rainm05,rainm06,rainm07,rainm08,rainm09,rainm10,rainm11,rainm12,rainm13,rainm14,rainm15,rainm16,rainm17,rainm18,rainm19,rainm20,rainm21,rainm22,rainm23,rainm24,rainm25,rainm26,rainm27,rainm28,rainm29,rainm30];

const FONT='"DejaVu Sans Mono", monospace';
const GRID='#bcbcbc';
const PL=50,PT=0,PW=640,PH=600;
const pxX=x=>(x-PL)/PW, pxY=y=>(PT+PH-y)/PH;

const traces=[];
function add(x,y,axis,color,width,msize,mode){
  traces.push({x:x,y:y,yaxis:axis,type:'scatter',mode:mode||'lines+markers',hoverinfo:'skip',showlegend:false,cliponaxis:false,
    line:{color:color,width:width,shape:'linear'},marker:{color:color,size:msize,symbol:'diamond'}});
}
[[tempHours,gfsT850,'y'],[tempHours,gfsT500,'y'],[rainHours,gfsRain,'y2']].forEach(s=>add(s[0],s[1],s[2],'#000',3,1,'lines'));
[[tempHours,ctrlT850,'y'],[tempHours,ctrlT500,'y'],[rainHours,ctrlRain,'y2']].forEach(s=>add(s[0],s[1],s[2],'#0000ff',3,1,'lines'));
memberColors.forEach((c,i)=>{
  add(tempHours,t850s[i],'y',c,1,4);
  add(tempHours,t500s[i],'y',c,1,4);
  add(rainHours,rains[i],'y2',c,1,4);
});
[[tempHours,meanT850,'y'],[tempHours,meanT500,'y'],[rainHours,meanRain,'y2']].forEach(s=>add(s[0],s[1],s[2],'#ff0000',4,1,'lines'));

const leftVals=[30,25,20,15,10,5,0,-5,-10,-15,-20,-25,-30,-35,-40,-45];
const rightVals=[75,70,65,60,55,50,45,40,35,30,25,20,15,10,5,0];
const pad=(v)=>String(v).replace('-','\u2212').padEnd(3,'\u00a0');
const hrule=(v,w,c)=>({type:'line',layer:'below',xref:'paper',x0:0,x1:1,yref:'y',y0:v,y1:v,line:{color:c,width:w}});
const shapes=[30,20,10,-10,-20,-30,-40].map(v=>hrule(v,2,GRID));
shapes.push(hrule(0,2.4,'#8e8e8e'));
const seg=(x0,x1,y,w,c)=>({type:'line',xref:'paper',yref:'paper',x0:pxX(x0),x1:pxX(x1),y0:pxY(y),y1:pxY(y),line:{color:c,width:w}});
shapes.push(seg(35,66,637,4,'#ff0000'),seg(225,256,637,4,'#0000ff'),seg(225,256,647,4,'#000'));
shapes.push({type:'rect',xref:'paper',yref:'paper',x0:pxX(20.5),x1:pxX(440.5),y0:pxY(667.5),y1:pxY(699),fillcolor:'#fff',line:{color:'#000',width:1}});
const ann=[];
const txt=(x,y,t,size,opts)=>ann.push(Object.assign({xref:'paper',yref:'paper',x:pxX(x),y:pxY(y),text:t,showarrow:false,xanchor:'left',yanchor:'middle',borderpad:0,font:{family:FONT,size:size||10,color:'#000'}},opts||{}));
memberColors.forEach((c,i)=>{
  const x0=400+i*11;
  shapes.push({type:'rect',xref:'paper',yref:'paper',x0:pxX(x0),x1:pxX(x0+10),y0:pxY(650),y1:pxY(656),fillcolor:c,line:{width:0}});
  txt(x0+5,644,String(i+1).padStart(2,'0'),8,{xanchor:'center'});
});
txt(59,85,'Temp. 850hPa');
txt(59,286,'Temp. 500hPa');
txt(59,485,'Précipitations');
txt(20,607,'(°C)');
txt(710,606,'(mm)');
txt(9,623,'Alt. 450m');
txt(74,637,'Moyenne des scénarios');
txt(264,637,'Run de contrôle');
txt(264,647,'Run GFS');
txt(74,659,'Risque neige');
txt(339,652,'30 Perts.');
txt(53,658,'\u2744',13,{font:{family:'"DejaVu Sans", sans-serif',size:14,color:'#5aaee8'}});
txt(29,677,'<b>Diagramme des ensembles GEFS sur 384h : 45.1N 7.7E</b>',11.6);
txt(29,692,'Températures 850hPa et 500hPa (°C) , précipitations (mm)');
txt(449,675,'Ensemble GEFS du 19/08/2022 - 00Z');
txt(449,692,'<b>Copyright 2022 Meteociel.fr</b>',11.6);

const layout={
  width:740,height:700,autosize:false,paper_bgcolor:'#fff',plot_bgcolor:'#fff',showlegend:false,
  margin:{l:PL,r:50,t:PT,b:100,pad:0},
  font:{family:FONT,size:10,color:'#000'},
  xaxis:{range:[0,384],tickmode:'array',tickvals:dayTicks,ticktext:dayLabels,tickangle:-90,showgrid:true,gridcolor:GRID,gridwidth:1,zeroline:false,showline:true,linecolor:'#000',linewidth:1,ticks:'',ticklabelshift:7,ticklabelstandoff:0,tickfont:{family:FONT,size:10,color:'#000'},automargin:false},
  yaxis:{range:[-52.714,33],tickmode:'array',tickvals:leftVals,ticktext:leftVals.map(pad),showgrid:true,gridcolor:GRID,gridwidth:1,zeroline:false,showline:false,ticks:'',ticklabelstandoff:12,ticklabelshift:2,tickfont:{family:FONT,size:10,color:'#000'},automargin:false},
  yaxis2:{range:[-7.714,78],overlaying:'y',side:'right',tickmode:'array',tickvals:rightVals,ticktext:rightVals.map(String),showgrid:false,zeroline:false,showline:false,ticks:'',ticklabelstandoff:19,ticklabelshift:2,tickfont:{family:FONT,size:10,color:'#000'},automargin:false},
  shapes:shapes,annotations:ann
};
Plotly.newPlot('chart',traces,layout,{staticPlot:true,displayModeBar:false});
</script></body></html>
